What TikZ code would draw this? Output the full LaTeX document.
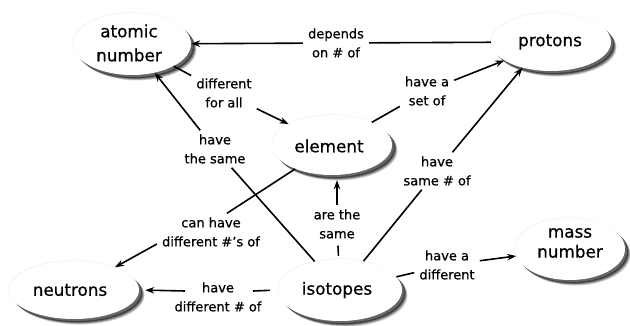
\documentclass[tikz,border=0pt]{standalone}
\usepackage{fontspec}
\setmainfont{DejaVu Sans}[FakeBold=0.6]
\usetikzlibrary{shapes.geometric,arrows.meta,calc}

\tikzset{
  % white ellipse with a soft shadow to the lower right
  concept/.style={ellipse, inner sep=0pt, fill=white,
    preaction={fill=black!15, transform canvas={shift={(5.5pt,-5.5pt)}}},
    preaction={fill=black!35, transform canvas={shift={(4.8pt,-4.8pt)}}},
    preaction={fill=black!55, transform canvas={shift={(4pt,-4pt)}}},
    preaction={fill=black!75, transform canvas={shift={(3.2pt,-3.2pt)}}},
    preaction={fill=black!60, transform canvas={shift={(2pt,-2pt)}}},
    preaction={fill=black!6, transform canvas={shift={(-0.6pt,0.6pt)}}}},
  conceptname/.style={align=center, inner sep=0pt, text=black,
    font=\fontsize{16.8}{24}\selectfont},
  linkname/.style={align=center, inner xsep=5pt, inner ysep=4pt, text=black,
    font=\fontsize{13}{19}\selectfont},
  link/.style={line width=1.6pt, draw=black},
  arrow/.style={link, -{Stealth[length=9pt,width=6.5pt]}}
}

\begin{document}
\begin{tikzpicture}[x=1pt,y=-1pt]
\useasboundingbox[fill=white] (0,0) rectangle (630,326);

% concepts
\node[concept, minimum width=118, minimum height=62] (atomic)   at (132,44)  {};
\node[concept, minimum width=120, minimum height=58] (protons)  at (551,42)  {};
\node[concept, minimum width=120, minimum height=60] (element)  at (332,145) {};
\node[concept, minimum width=130, minimum height=58] (neutrons) at (74,290)  {};
\node[concept, minimum width=124, minimum height=62] (isotopes) at (340,290) {};
\node[concept, minimum width=110, minimum height=62] (mass)     at (570,249) {};

\node[conceptname] (atomic-t)   at (129,43)  {atomic\\number};
\node[conceptname] (protons-t)  at (550,42)  {protons};
\node[conceptname] (element-t)  at (329,146) {element};
\node[conceptname] (neutrons-t) at (70,290)  {neutrons};
\node[conceptname] (isotopes-t) at (337,290) {isotopes};
\node[conceptname, font=\fontsize{16.8}{20}\selectfont] (mass-t) at (570,243) {mass\\number};

% linking phrases
\node[linkname] (dep)     at (336,43)  {depends\\on \# of};
\node[linkname] (diffall) at (224,93)  {different\\for all};
\node[linkname] (haveset) at (427,91)  {have a\\set of};
\node[linkname] (thesame) at (215,149) {have\\the same};
\node[linkname] (canhave) at (211,232) {can have\\different \#'s of};
\node[linkname] (aresame) at (337,224) {are the\\same};
\node[linkname] (samenum) at (437,171) {have\\same \# of};
\node[linkname] (hdiff)   at (447,265) {have a\\different};
\node[linkname] (hdnum)   at (218,297) {have\\different \# of};

% connectors
\draw[link]  (protons) -- (dep);
\draw[arrow] (dep) -- (atomic);

\draw[link]  (atomic) -- (diffall);
\draw[arrow] (diffall) -- (element);

\draw[link]  (element) -- (haveset);
\draw[arrow] (haveset) -- (protons);

\draw[link]  (isotopes) -- (thesame);
\draw[arrow] (thesame) -- (atomic);

\draw[link]  (element) -- ($(canhave.north)+(16,0)$);
\draw[arrow] ($(canhave.west)+(0,12)$) -- (neutrons.29);

\draw[link, shorten <=3pt, shorten >=3pt] (isotopes) -- (aresame);
\draw[arrow, shorten >=5pt] (aresame.north) -- (aresame.north |- element.south);

\draw[link]  (isotopes) -- (samenum);
\draw[arrow] (samenum) -- (protons.222);

\draw[link]  (isotopes) -- (hdiff);
\draw[arrow] (hdiff) -- (mass);

\draw[link, shorten <=8pt] (isotopes.west) -- ($(hdnum.center)+(35,-6)$);
\draw[arrow, shorten >=6pt] ($(hdnum.center)+(-33,-6)$) -- (neutrons.east);
\end{tikzpicture}
\end{document}
